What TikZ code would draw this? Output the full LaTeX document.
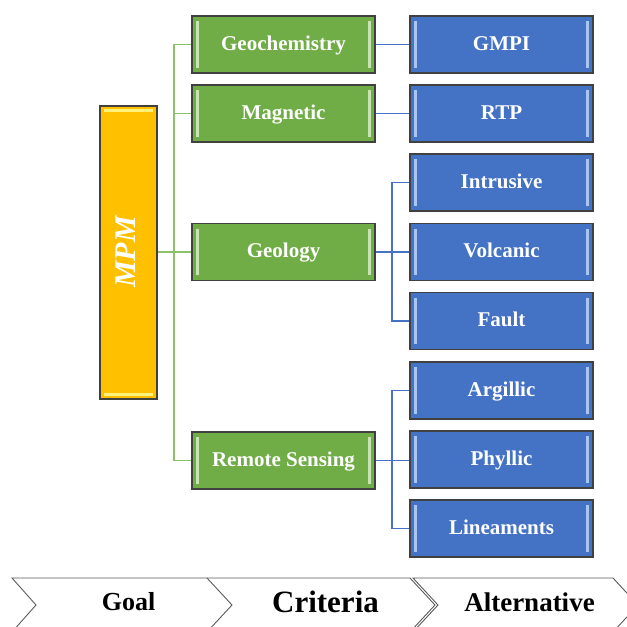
\documentclass[tikz,border=0pt]{standalone}
\usepackage{fontspec}
\setmainfont{Liberation Serif}
\definecolor{ggreen}{HTML}{70AD47}
\definecolor{bblue}{HTML}{4472C4}
\definecolor{myellow}{HTML}{FFC000}
\definecolor{boxedge}{HTML}{404040}
\definecolor{glinec}{HTML}{8CC168}
\definecolor{blinec}{HTML}{4472C4}
\definecolor{chevc}{HTML}{595959}
\definecolor{ghl}{HTML}{C8E4B4}
\definecolor{bhl}{HTML}{A9C6F2}
\definecolor{yhl}{HTML}{FFF27A}
\pgfdeclarelayer{background}
\pgfsetlayers{background,main}
\begin{document}
\begin{tikzpicture}[x=1pt,y=-1pt,
  box/.style={draw=boxedge,line width=1.3pt,minimum width=183pt,minimum height=57pt,inner sep=0pt,text height=15pt,text depth=4pt,text=white,font=\bfseries\fontsize{21}{24}\selectfont},
  gbox/.style={box,fill=ggreen},
  bbox/.style={box,fill=bblue},
  gline/.style={draw=glinec,line width=1.2pt},
  bline/.style={draw=blinec,line width=1.2pt},
  chev/.style={draw=chevc,line width=0.9pt},
  lab/.style={font=\bfseries\fontsize{#1}{#1}\selectfont,text=black,inner sep=0pt}
]
\useasboundingbox (0,0) rectangle (627,627);
\clip (0,0) rectangle (627,627);

% goal
\node[draw=boxedge,line width=1.3pt,fill=myellow,minimum width=57pt,minimum height=293pt,inner sep=0pt] (mpm) at (128.5,252.5) {};
\fill[yhl] ([xshift=5pt,yshift=-4pt]mpm.north west) rectangle ([xshift=-5pt,yshift=-7pt]mpm.north east);
\fill[yhl] ([xshift=5pt,yshift=7pt]mpm.south west) rectangle ([xshift=-5pt,yshift=4pt]mpm.south east);
\node[rotate=90,text=white,font=\bfseries\itshape\fontsize{30}{30}\selectfont,inner sep=0pt] (mpmtxt) at (126,252) {MPM};

% criteria
\node[gbox] (geochem) at (283.5,44.5) {Geochemistry};
\node[gbox] (magnetic) at (283.5,113.5) {Magnetic};
\node[gbox] (geology) at (283.5,252) {Geology};
\node[gbox] (remote) at (283.5,460.5) {Remote Sensing};

% alternatives
\node[bbox] (gmpi) at (501.5,44.5) {GMPI};
\node[bbox] (rtp) at (501.5,113.5) {RTP};
\node[bbox] (intrusive) at (501.5,182.5) {Intrusive};
\node[bbox] (volcanic) at (501.5,252) {Volcanic};
\node[bbox] (fault) at (501.5,321) {Fault};
\node[bbox] (argillic) at (501.5,390.5) {Argillic};
\node[bbox] (phyllic) at (501.5,459.5) {Phyllic};
\node[bbox] (lineaments) at (501.5,528.5) {Lineaments};

\foreach \n/\c in {geochem/ghl,magnetic/ghl,geology/ghl,remote/ghl,gmpi/bhl,rtp/bhl,intrusive/bhl,volcanic/bhl,fault/bhl,argillic/bhl,phyllic/bhl,lineaments/bhl}{
  \fill[\c] ([xshift=5pt,yshift=-6pt]\n.north west) rectangle ([xshift=7.5pt,yshift=6pt]\n.south west);
  \fill[\c] ([xshift=-7.5pt,yshift=-6pt]\n.north east) rectangle ([xshift=-5pt,yshift=6pt]\n.south east);
}

% trunk coordinates
\coordinate (gt) at (174,0);
\coordinate (bt) at (392,0);

\begin{pgfonlayer}{background}
% green connectors
\draw[gline] (mpm.east |- geology.west) -- (geology.west);
\draw[gline] (geochem.west) -- (geochem.west -| gt) -- (remote.west -| gt) -- (remote.west);
\draw[gline] (magnetic.west) -- (magnetic.west -| gt);

% blue connectors
\draw[bline] (geochem.east) -- (gmpi.west);
\draw[bline] (magnetic.east) -- (rtp.west);
\draw[bline] (geology.east) -- (volcanic.west);
\draw[bline] (intrusive.west) -- (intrusive.west -| bt) -- (fault.west -| bt) -- (fault.west);
\draw[bline] (remote.east) -- (phyllic.west |- remote.east);
\draw[bline] (argillic.west) -- (argillic.west -| bt) -- (lineaments.west -| bt) -- (lineaments.west);
\end{pgfonlayer}

% chevrons
\draw[chev] (12,578) -- (207,578) -- (232,605) -- (207,632) -- (12,632) -- (36,605) -- cycle;
\draw[chev] (207,578) -- (410,578) -- (435,605) -- (410,632) -- (207,632);
\draw[chev] (413,578) -- (613,578) -- (638,605) -- (613,632) -- (413,632) -- (438,605) -- cycle;
\node[lab=26] (goal) at (128.5,602) {Goal};
\node[lab=31] (crit) at (325.5,602) {Criteria};
\node[lab=27] (alt) at (529.5,602) {Alternative};
\end{tikzpicture}
\end{document}
